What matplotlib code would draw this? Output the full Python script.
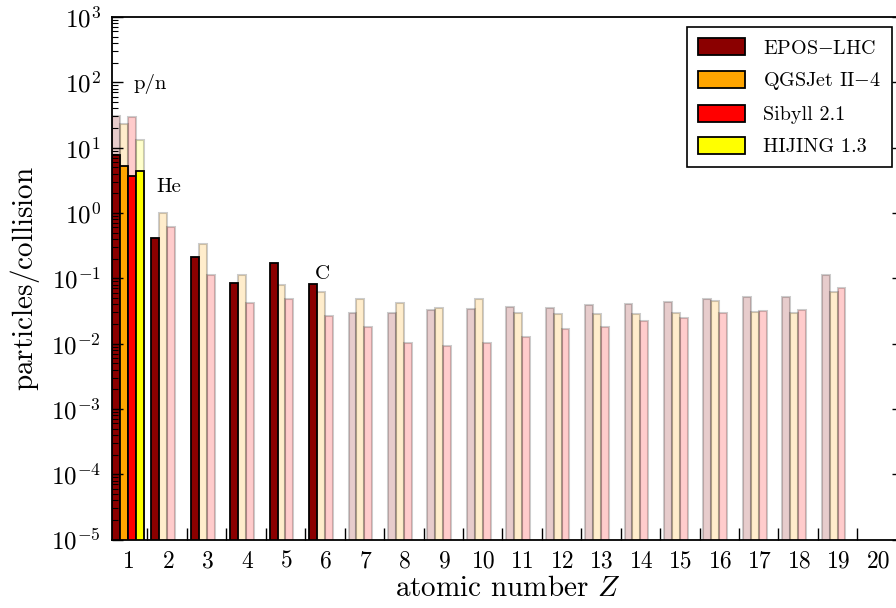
import numpy as np
import matplotlib
matplotlib.use('Agg')
import matplotlib.pyplot as plt

plt.rcParams['font.family'] = 'serif'
plt.rcParams['font.serif'] = ['cmr10']
plt.rcParams['mathtext.fontset'] = 'cm'
plt.rcParams['axes.formatter.use_mathtext'] = True

nan = np.nan
Z = np.arange(1, 21)
models = ['EPOS$-$LHC', 'QGSJet II$-$4', 'Sibyll 2.1', 'HIJING 1.3']
colors = ['#8b0000', 'orange', 'red', 'yellow']

# solid bars (only a few Z)
epos_solid = [7.7, 0.42, 0.213, 0.0836, 0.169, 0.0807] + [nan] * 14
qgs_solid = [5.3] + [nan] * 19
sib_solid = [3.67] + [nan] * 19
hij_solid = [4.33] + [nan] * 19

# faded bars
epos_faded = [30.5, nan, nan, nan, nan, nan, 0.0297, 0.0297, 0.0322, 0.0334,
              0.0358, 0.0346, 0.0385, 0.0403, 0.0437, 0.048, 0.0515, 0.0515, 0.112, nan]
qgs_faded = [23.0, 1.0, 0.33, 0.112, 0.0787, 0.061, 0.048, 0.0417, 0.0353, 0.048,
             0.0297, 0.0283, 0.0286, 0.0283, 0.0297, 0.0452, 0.0307, 0.0293, 0.0608, nan]
sib_faded = [29.7, 0.61, 0.113, 0.0422, 0.0485, 0.0264, 0.0181, 0.0103, 0.0092, 0.0101,
             0.0126, 0.0165, 0.0181, 0.0221, 0.0246, 0.0297, 0.0318, 0.033, 0.0708, nan]
hij_faded = [13.1] + [nan] * 19

solid = [epos_solid, qgs_solid, sib_solid, hij_solid]
faded = [epos_faded, qgs_faded, sib_faded, hij_faded]

fig = plt.figure(figsize=(8.96, 6.08), dpi=100)
ax = fig.add_axes([112 / 896, 1 - 539.5 / 608, (903 - 112) / 896, (539.5 - 17) / 608])

w = 0.2
for i in range(4):
    pos = Z - 0.33 + i * w
    ax.bar(pos, faded[i], width=w, color=colors[i], alpha=0.2,
           edgecolor='black', linewidth=1.5, bottom=1e-6)
for i in range(4):
    pos = Z - 0.33 + i * w
    ax.bar(pos, solid[i], width=w, color=colors[i], edgecolor='black',
           linewidth=1.3, label=models[i], bottom=1e-6)

ax.set_yscale('log')
ax.set_ylim(1e-5, 1e3)
ax.set_xlim(0.57, 20.63)

ax.set_xticks(Z)
ax.set_xticklabels([str(z) for z in Z])
ax.set_xticks(Z + 0.47, minor=True)
ax.tick_params(axis='x', which='major', length=0, labelsize=17, pad=8)
ax.tick_params(axis='x', which='minor', direction='in', length=9, width=1, top=False)
ax.tick_params(axis='y', which='both', direction='in', right=True, labelsize=18, pad=8)
ax.tick_params(axis='y', which='major', length=8, width=1)
ax.tick_params(axis='y', which='minor', length=4, width=0.8)
for s in ax.spines.values():
    s.set_linewidth(1.3)

ax.set_xlabel('atomic number $Z$', fontsize=21, labelpad=2)
ax.set_ylabel('particles$/$collision', fontsize=21, labelpad=6)

ax.text(1.53, 94, 'p/n', fontsize=15, ha='center', va='center')
ax.text(2.0, 2.47, 'He', fontsize=15, ha='center', va='center')
ax.text(5.91, 0.117, 'C', fontsize=15, ha='center', va='center')

leg = ax.legend(loc='upper right', bbox_to_anchor=(892 / 896, 1 - 27 / 608),
                bbox_transform=fig.transFigure, borderaxespad=0, fancybox=False,
                edgecolor='black', framealpha=1, fontsize=14.5, handlelength=2.3,
                handleheight=0.95, labelspacing=0.62, borderpad=0.55,
                handletextpad=0.9)
leg.get_frame().set_linewidth(1.2)

fig.savefig('out.png', dpi=100)
